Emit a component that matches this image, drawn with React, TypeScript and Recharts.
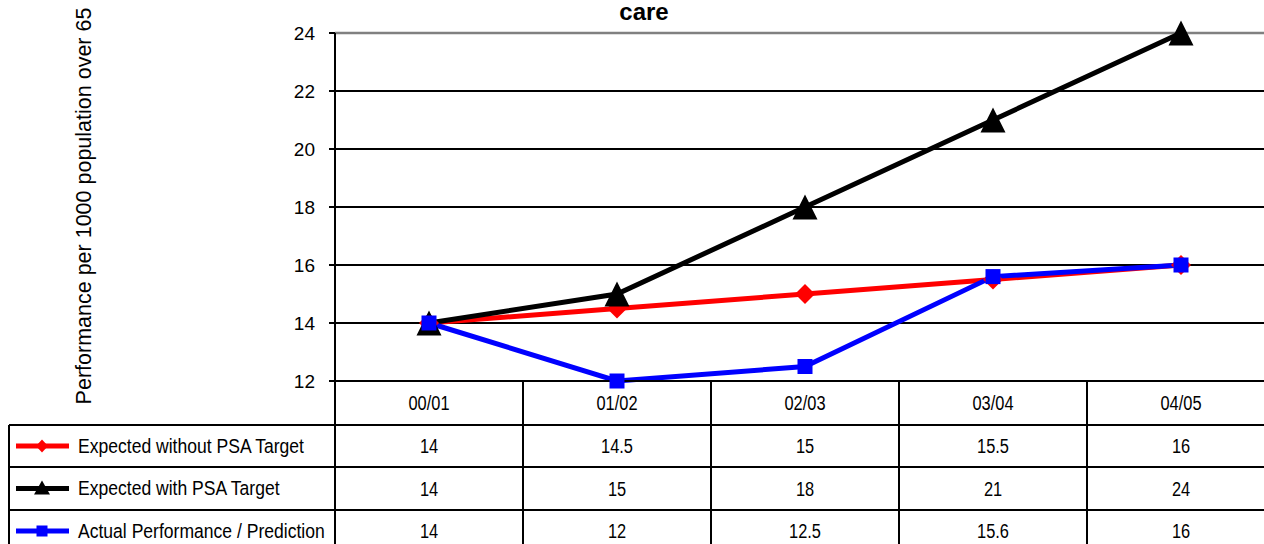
import React from 'react';
import { LineChart, Line, XAxis, YAxis, CartesianGrid, ReferenceLine } from 'recharts';

const categories = ['00/01', '01/02', '02/03', '03/04', '04/05'];
const withoutTarget = [14, 14.5, 15, 15.5, 16];
const withTarget = [14, 15, 18, 21, 24];
const actual = [14, 12, 12.5, 15.6, 16];
const yTicks = [12, 14, 16, 18, 20, 22, 24];
const seriesNames = ['Expected without PSA Target', 'Expected with PSA Target', 'Actual Performance / Prediction'];
const titleText = 'care';
const yLabel = 'Performance per 1000 population over 65';

const data = categories.map((c, i) => ({
  cat: c,
  a: withoutTarget[i],
  b: withTarget[i],
  c: actual[i],
}));

const FONT = '"Liberation Sans", Arial, sans-serif';
const W = 1290;
const H = 560;
const PLOT_L = 335;
const PLOT_R = 1275;
const PLOT_T = 33;
const PLOT_B = 381;
const BAND = (PLOT_R - PLOT_L) / categories.length;
const ROWS = [425, 467, 510, 552];

const Diamond = (p: any) => {
  const { cx, cy } = p;
  if (cx == null || cy == null) return <g />;
  const r = 10;
  return <path d={`M${cx},${cy - r}L${cx + r},${cy}L${cx},${cy + r}L${cx - r},${cy}Z`} fill="#FF0000" />;
};
const Triangle = (p: any) => {
  const { cx, cy } = p;
  if (cx == null || cy == null) return <g />;
  const w = 12.5, h = 12.5;
  return <path d={`M${cx},${cy - h}L${cx + w},${cy + h}L${cx - w},${cy + h}Z`} fill="#000" />;
};
const Square = (p: any) => {
  const { cx, cy } = p;
  if (cx == null || cy == null) return <g />;
  const s = 7.5;
  return <rect x={cx - s} y={cy - s} width={s * 2} height={s * 2} fill="#0000FF" />;
};

const Narrow = ({ x, y, size, sx, anchor, children }: any) => (
  <text
    transform={`translate(${x},${y}) scale(${sx},1)`}
    x={0}
    y={0}
    textAnchor={anchor}
    dominantBaseline="central"
    fontFamily={FONT}
    fontSize={size}
    fill="#000"
  >
    {children}
  </text>
);

const CatTick = (p: any) => {
  const { x, payload } = p;
  return (
    <Narrow x={x} y={403} size={20.5} sx={0.8} anchor="middle">
      {payload.value}
    </Narrow>
  );
};

const YTick = (p: any) => {
  const { y, payload } = p;
  return (
    <text x={315} y={y} textAnchor="end" dominantBaseline="central" fontFamily={FONT} fontSize={19} fill="#000">
      {payload.value}
    </text>
  );
};

const seriesStyles = [
  { color: '#FF0000', values: withoutTarget, marker: 'diamond' },
  { color: '#000000', values: withTarget, marker: 'triangle' },
  { color: '#0000FF', values: actual, marker: 'square' },
];

const LegendMarker = ({ kind, cx, cy }: { kind: string; cx: number; cy: number }) => {
  if (kind === 'diamond') {
    return <path d={`M${cx},${cy - 6.5}L${cx + 6},${cy}L${cx},${cy + 6.5}L${cx - 6},${cy}Z`} fill="#FF0000" />;
  }
  if (kind === 'triangle') {
    return <path d={`M${cx},${cy - 8}L${cx + 8},${cy + 6}L${cx - 8},${cy + 6}Z`} fill="#000" />;
  }
  return <rect x={cx - 5.5} y={cy - 5.5} width={11} height={11} fill="#0000FF" />;
};

export default function App() {
  return (
    <div style={{ position: 'absolute', left: 0, top: 0, width: W, height: H, background: '#fff' }}>
      <LineChart
        width={W}
        height={H}
        data={data}
        margin={{ top: PLOT_T, right: W - PLOT_R, left: PLOT_L - 60, bottom: H - PLOT_B - 44 }}
      >
        <CartesianGrid vertical={false} stroke="#000" strokeWidth={2} />
        <XAxis
          dataKey="cat"
          height={44}
          padding={{ left: BAND / 2, right: BAND / 2 }}
          axisLine={{ stroke: '#000', strokeWidth: 2 }}
          tickLine={false}
          tick={<CatTick />}
          interval={0}
        />
        <YAxis
          width={60}
          domain={[12, 24]}
          ticks={yTicks}
          interval={0}
          tickSize={6}
          axisLine={{ stroke: '#000', strokeWidth: 2 }}
          tickLine={{ stroke: '#000', strokeWidth: 2 }}
          tick={<YTick />}
        />
        <ReferenceLine y={24} stroke="#808080" strokeWidth={2.5} />
        <Line dataKey="a" stroke="#FF0000" strokeWidth={5} dot={<Diamond />} isAnimationActive={false} />
        <Line dataKey="b" stroke="#000000" strokeWidth={5} dot={<Triangle />} isAnimationActive={false} />
        <Line dataKey="c" stroke="#0000FF" strokeWidth={5} dot={<Square />} isAnimationActive={false} />
      </LineChart>
      <svg width={W} height={H} style={{ position: 'absolute', left: 0, top: 0, pointerEvents: 'none' }}>
        <text x={644} y={20} textAnchor="middle" fontFamily={FONT} fontSize={24} fontWeight="bold" fill="#000">
          {titleText}
        </text>
        <text transform="translate(91,206) rotate(-90)" textAnchor="middle" fontFamily={FONT} fontSize={21.5} fill="#000">
          {yLabel}
        </text>
        {categories.map((_, i) => (
          <line key={'v' + i} x1={PLOT_L + BAND * (i + 1)} x2={PLOT_L + BAND * (i + 1)} y1={PLOT_B} y2={H} stroke="#000" strokeWidth={2} />
        ))}
        <line x1={PLOT_L} x2={PLOT_L} y1={PLOT_B} y2={H} stroke="#000" strokeWidth={2} />
        <line x1={9} x2={9} y1={ROWS[0]} y2={H} stroke="#000" strokeWidth={2} />
        {ROWS.map((y, i) => (
          <line key={'h' + i} x1={9} x2={PLOT_R} y1={y} y2={y} stroke="#000" strokeWidth={2} />
        ))}
        {seriesStyles.map((s, r) => {
          const cy = (ROWS[r] + ROWS[r + 1]) / 2;
          return (
            <g key={'row' + r}>
              <line x1={16} x2={69} y1={cy} y2={cy} stroke={s.color} strokeWidth={5} />
              <LegendMarker kind={s.marker} cx={42} cy={cy} />
              <Narrow x={78} y={cy} size={19.5} sx={0.9} anchor="start">
                {seriesNames[r]}
              </Narrow>
              {s.values.map((v, i) => (
                <Narrow key={i} x={PLOT_L + BAND * (i + 0.5)} y={cy} size={20.5} sx={0.8} anchor="middle">
                  {v}
                </Narrow>
              ))}
            </g>
          );
        })}
      </svg>
    </div>
  );
}
